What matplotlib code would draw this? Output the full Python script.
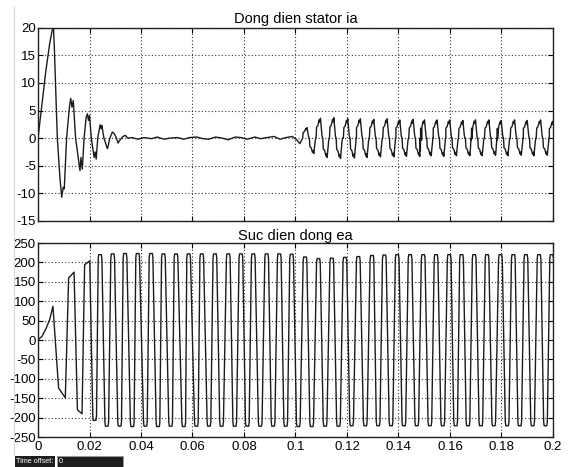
import matplotlib.pyplot as plt
from matplotlib.patches import Rectangle
from matplotlib.lines import Line2D

plt.rcParams['font.family'] = ['Liberation Sans', 'DejaVu Sans']
plt.rcParams['axes.unicode_minus'] = False

# ---- stator current ia, start-up transient and idle part
ia_start_t = [0.0, 0.0015, 0.003, 0.0045, 0.0055, 0.006, 0.0063, 0.0075, 0.0085, 0.0092,
              0.0098, 0.0102, 0.0111, 0.0122, 0.0127, 0.0132, 0.0137, 0.0146, 0.0163, 0.0167,
              0.0172, 0.0179, 0.0187, 0.0192, 0.0196, 0.0200, 0.0207, 0.0218, 0.0222, 0.0226,
              0.0232, 0.0241, 0.0245, 0.0248, 0.0256, 0.0267, 0.0270, 0.0279, 0.0289, 0.0296,
              0.0302, 0.0311, 0.0317, 0.0330, 0.0339, 0.0349,
              0.0365, 0.0388, 0.0412, 0.0441, 0.0463, 0.0490, 0.0512, 0.0543, 0.0566, 0.0588,
              0.0617, 0.0641, 0.0662, 0.0690, 0.0716, 0.0738, 0.0766, 0.0789, 0.0813, 0.0842,
              0.0864, 0.0888, 0.0917, 0.0940, 0.0963, 0.0988, 0.1005, 0.1017]
ia_start_v = [0.0, 6.0, 12.0, 17.0, 19.5, 20.0, 17.0, 0.0, -7.0, -10.7,
              -8.9, -9.2, 0.0, 5.6, 7.2, 5.6, 6.8, 0.0, -5.9, -3.5,
              -5.6, 0.0, 3.8, 4.4, 3.2, 4.1, 0.0, -3.5, -2.5, -3.8,
              0.0, 2.4, 1.7, 2.3, 0.0, -1.6, -1.9, 0.0, 1.1, 0.8,
              0.3, -0.9, -0.4, 0.3, 0.5, 0.0,
              0.1, -0.2, 0.1, -0.1, 0.2, -0.2, 0.0, 0.1, -0.2, 0.1,
              0.2, -0.1, -0.2, 0.2, 0.0, -0.3, 0.2, 0.1, -0.2, 0.2,
              -0.1, 0.1, 0.3, -0.2, 0.1, 0.3, -0.3, -1.0]

# ---- ia after the load step: lobe peaks and troughs
ia_pos_t = [0.1043, 0.1095, 0.1147, 0.1201, 0.1250, 0.1302, 0.1354, 0.1403, 0.1455, 0.1499,
            0.1548, 0.1597, 0.1648, 0.1697, 0.1749, 0.1797, 0.1849, 0.1898, 0.1950, 0.1999]
ia_pos_v = [1.9, 3.6, 3.7, 3.5, 3.5, 3.4, 3.5, 3.3, 3.4, 3.3,
            3.3, 3.3, 3.2, 3.3, 3.3, 3.2, 3.3, 3.2, 3.3, 3.1]
ia_neg_t = [0.1069, 0.1121, 0.1173, 0.1227, 0.1276, 0.1328, 0.1380, 0.1429, 0.1481, 0.1525,
            0.1574, 0.1623, 0.1675, 0.1723, 0.1775, 0.1823, 0.1875, 0.1924, 0.1976]
ia_neg_v = [-2.8, -3.5, -3.7, -3.6, -3.5, -3.4, -3.4, -3.3, -3.3, -3.2,
            -3.3, -3.2, -3.2, -3.2, -3.1, -3.2, -3.1, -3.2, -3.1]
lobe_dt = [-0.0015, -0.0013, -0.0008, -0.0003, 0.0, 0.0002, 0.0004, 0.0008, 0.0010]
lobe_k = [0.0, 0.55, 0.63, 0.92, 0.8, 1.0, 0.7, 0.12, 0.0]

# ---- back emf ea, start-up transient
ea_start_t = [0.0, 0.0016, 0.0032, 0.0045, 0.0058, 0.0080, 0.0106, 0.0119, 0.0140,
              0.0153, 0.0171, 0.0181, 0.0201]
ea_start_v = [0, 10, 31, 52, 87, -124, -149, 160, 175, -180, -190, 194, 204]
# plateau centres after that
ea_flat_t = [0.0220, 0.0241, 0.0267, 0.0290, 0.0317, 0.0338, 0.0366, 0.0387, 0.0417, 0.0439,
             0.0466, 0.0487, 0.0515, 0.0536, 0.0566, 0.0585, 0.0615, 0.0636, 0.0664, 0.0687,
             0.0713, 0.0739, 0.0764, 0.0788, 0.0813, 0.0836, 0.0863, 0.0888, 0.0913, 0.0937,
             0.0962, 0.0985, 0.1011, 0.1037, 0.1063, 0.1089, 0.1115, 0.1141, 0.1167, 0.1192,
             0.1218, 0.1244, 0.1271, 0.1297, 0.1321, 0.1345, 0.1371, 0.1395, 0.1421, 0.1445,
             0.1471, 0.1496, 0.1522, 0.1546, 0.1572, 0.1597, 0.1622, 0.1645, 0.1670, 0.1694,
             0.1720, 0.1744, 0.1770, 0.1796, 0.1822, 0.1846, 0.1871, 0.1895, 0.1921, 0.1946,
             0.1971, 0.1995]
ea_flat_v = [-207, 220, -222, 222, -222, 223, -223, 223, -222, 223,
             -223, 222, -222, 222, -223, 222, -222, 222, -222, 222,
             -222, 222, -222, 222, -222, 222, -222, 222, -222, 222,
             -222, 221, -223, 214, -223, 210, -222, 211, -222, 213,
             -221, 215, -221, 218, -221, 219, -221, 220, -221, 220,
             -221, 220, -221, 220, -221, 220, -221, 220, -221, 220,
             -221, 220, -221, 220, -221, 220, -221, 220, -221, 220,
             -221, 220]
flat_half = 0.00052
shoulder = 0.0002

xticks = [0, 0.02, 0.04, 0.06, 0.08, 0.1, 0.12, 0.14, 0.16, 0.18, 0.2]
xlabels = ['0', '0.02', '0.04', '0.06', '0.08', '0.1', '0.12', '0.14', '0.16', '0.18', '0.2']

# build the traces
ia_pts = list(zip(ia_start_t, ia_start_v))
for tc, a in list(zip(ia_pos_t, ia_pos_v)) + list(zip(ia_neg_t, ia_neg_v)):
    for dt, k in zip(lobe_dt, lobe_k):
        ia_pts.append((tc + dt, a * k))
ia_pts.sort()
ia_t = [p[0] for p in ia_pts]
ia_v = [p[1] for p in ia_pts]

ea_t = list(ea_start_t)
ea_v = list(ea_start_v)
for tc, v in zip(ea_flat_t, ea_flat_v):
    # slightly rounded plateau
    ea_t += [tc - flat_half - shoulder, tc - flat_half, tc + flat_half, tc + flat_half + shoulder]
    ea_v += [v * 0.95, v, v, v * 0.95]

fig = plt.figure(figsize=(5.69, 4.67), dpi=100)
ax1 = fig.add_axes([0.0668, 0.5268, 0.905, 0.414])
ax2 = fig.add_axes([0.0668, 0.0642, 0.905, 0.4154])

line_c = '#1c1c1c'
ax1.plot(ia_t, ia_v, color=line_c, lw=1.0)
ax2.plot(ea_t, ea_v, color=line_c, lw=1.0)

for ax in (ax1, ax2):
    ax.set_xlim(0, 0.2)
    ax.set_xticks(xticks)
    ax.grid(True, color='#333333', linestyle=(0, (1, 2)), linewidth=0.8)
    ax.tick_params(direction='in', length=3.5, width=0.8, top=True, right=True,
                   labelsize=9.5, pad=1.5, colors='black')
    for s in ax.spines.values():
        s.set_linewidth(1.0)
        s.set_color('#222222')

ax1.set_ylim(-15, 20)
ax1.set_yticks([-15, -10, -5, 0, 5, 10, 15, 20])
ax1.set_xticklabels([])
ax1.set_title('Dong dien stator ia', fontsize=10.5, pad=3)

ax2.set_ylim(-250, 250)
ax2.set_yticks(list(range(-250, 251, 50)))
ax2.set_xticklabels(xlabels)
ax2.tick_params(axis='x', pad=3)
ax2.set_title('Suc dien dong ea', fontsize=10.5, pad=2)

# window border line and time offset bar
fig.add_artist(Line2D([13.5 / 569, 13.5 / 569], [1 - 7 / 467, 1 - 455 / 467],
                      color='#d6d6d6', lw=0.8))
fig.add_artist(Rectangle((14.5 / 569, 0), 40.5 / 569, 11 / 467,
                         facecolor='#1e1e1e', edgecolor='none'))
fig.add_artist(Rectangle((56.5 / 569, 0), 66 / 569, 11 / 467,
                         facecolor='#1e1e1e', edgecolor='#9a9a9a', lw=0.6))
fig.text(16 / 569, 5.5 / 467, 'Time offset:', color='white', fontsize=5.2, va='center')
fig.text(58.5 / 569, 5.5 / 467, '0', color='white', fontsize=5.2, va='center')

fig.savefig('out.png', dpi=100, facecolor='white')
